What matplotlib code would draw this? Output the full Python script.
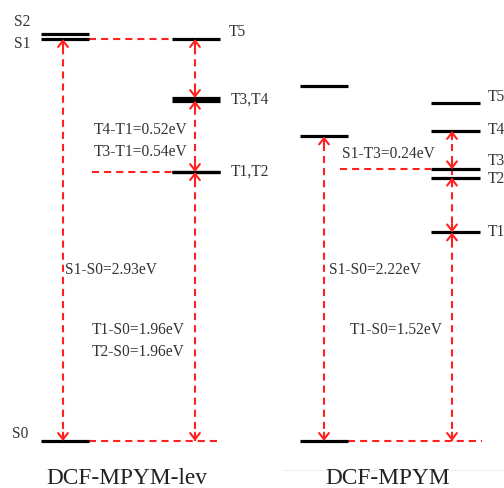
import matplotlib
matplotlib.use("Agg")
import matplotlib.pyplot as plt

plt.rcParams["font.family"] = ["Liberation Serif", "DejaVu Serif"]

# %% Data: energies in eV relative to S0
lev_singlets = {"S0": 0.0, "S1": 2.93, "S2": 2.97}
lev_triplets = {"T1": 1.96, "T2": 1.96, "T3": 2.50, "T4": 2.48, "T5": 2.93}
mp_singlets = {"S0": 0.0, "S1": 2.22, "S2": 2.59}
mp_triplets = {"T1": 1.52, "T2": 1.92, "T3": 1.98, "T4": 2.26, "T5": 2.46}

lev_gaps = ["T4-T1=0.52eV", "T3-T1=0.54eV", "S1-S0=2.93eV",
            "T1-S0=1.96eV", "T2-S0=1.96eV"]
mp_gaps = ["S1-T3=0.24eV", "S1-S0=2.22eV", "T1-S0=1.52eV"]
titles = ["DCF-MPYM-lev", "DCF-MPYM"]

# %% Layout helpers (pixel frame of the original figure)
W, H = 504, 488
Y0, SCALE = 441, 137.2   # pixel row of S0, pixels per eV


def ey(py):
    """pixel row -> energy coordinate"""
    return (Y0 - py) / SCALE


RED = "#ff2020"
TXT = "#333333"
LW_LEV = 2.3
LW_RED = 1.5
DASH = (0, (3.4, 2.4))
FS = 11.2

fig = plt.figure(figsize=(W / 100, H / 100), dpi=100)
ax = fig.add_axes([0, 0, 1, 1])
ax.set_xlim(0, W)
ax.set_ylim(ey(H), ey(0))
ax.axis("off")


def level(x0, x1, e):
    ax.plot([x0, x1], [e, e], color="black", lw=LW_LEV, solid_capstyle="butt",
            zorder=3)


def dash_h(x0, x1, e):
    ax.plot([x0, x1], [e, e], color=RED, lw=LW_RED, ls=DASH, zorder=2)


def dash_v(x, e0, e1):
    ax.plot([x, x], [e0, e1], color=RED, lw=LW_RED, ls=DASH, zorder=2)


def head(x, e, up):
    off = -6 if up else 6
    ax.annotate("", xy=(x, e), xytext=(0, off), textcoords="offset points",
                arrowprops=dict(arrowstyle="->,head_length=0.45,head_width=0.35",
                                color=RED, lw=LW_RED, shrinkA=0, shrinkB=0),
                zorder=4)


def label(x, py, s, **kw):
    ax.text(x, ey(py), s, fontsize=FS, va="center", color=TXT, **kw)


# %% Left panel: DCF-MPYM-lev
for k in ["S0", "S1", "S2"]:
    level(41, 89, lev_singlets[k])
for k in ["T1", "T2", "T3", "T4", "T5"]:
    level(172, 220, lev_triplets[k])

dash_h(89, 172, lev_singlets["S1"])
dash_h(92, 172, lev_triplets["T1"])
dash_h(89, 222, lev_singlets["S0"])

dash_v(63, lev_singlets["S0"], lev_singlets["S1"])
head(63, lev_singlets["S1"], True)
head(63, lev_singlets["S0"], False)

dash_v(195, lev_singlets["S0"], lev_triplets["T5"])
head(195, lev_triplets["T5"], True)
head(195, lev_triplets["T3"], False)
head(195, lev_triplets["T4"], True)
head(195, lev_triplets["T1"], False)
head(195, lev_triplets["T1"], True)
head(195, lev_singlets["S0"], False)

label(14, 22, "S2")
label(14, 44, "S1")
label(12, 434, "S0")
label(229, 32, "T5")
label(231, 100, "T3,T4")
label(231, 172, "T1,T2")
label(94, 130, lev_gaps[0])
label(94, 152, lev_gaps[1])
label(65, 270, lev_gaps[2])
label(92, 330, lev_gaps[3])
label(92, 352, lev_gaps[4])

# %% Right panel: DCF-MPYM
for k in ["S0", "S1", "S2"]:
    level(300, 348, mp_singlets[k])
for k in ["T1", "T2", "T3", "T4", "T5"]:
    level(431, 480, mp_triplets[k])

dash_h(340, 431, mp_triplets["T3"])
dash_h(348, 482, mp_singlets["S0"])

dash_v(324, mp_singlets["S0"], mp_singlets["S1"])
head(324, mp_singlets["S1"], True)
head(324, mp_singlets["S0"], False)

dash_v(452, mp_singlets["S0"], mp_triplets["T4"])
head(452, mp_triplets["T4"], True)
head(452, mp_triplets["T3"], False)
head(452, mp_triplets["T2"], True)
head(452, mp_triplets["T1"], False)
head(452, mp_triplets["T1"], True)
head(452, mp_singlets["S0"], False)

for k, py in [("T5", 97), ("T4", 130), ("T3", 161), ("T2", 179), ("T1", 232)]:
    label(488, py, k)
label(342, 154, mp_gaps[0])
label(329, 270, mp_gaps[1])
label(350, 330, mp_gaps[2])

# faint panel separator from the original composite
ax.plot([282, W], [ey(470), ey(470)], color="#f0f0f0", lw=0.8, zorder=1)

# %% Titles
ax.text(127, ey(479), titles[0], fontsize=16.8, ha="center", va="center",
        color="#222222")
ax.text(388, ey(479), titles[1], fontsize=16.8, ha="center", va="center",
        color="#222222")

fig.savefig("out.png", dpi=100)
